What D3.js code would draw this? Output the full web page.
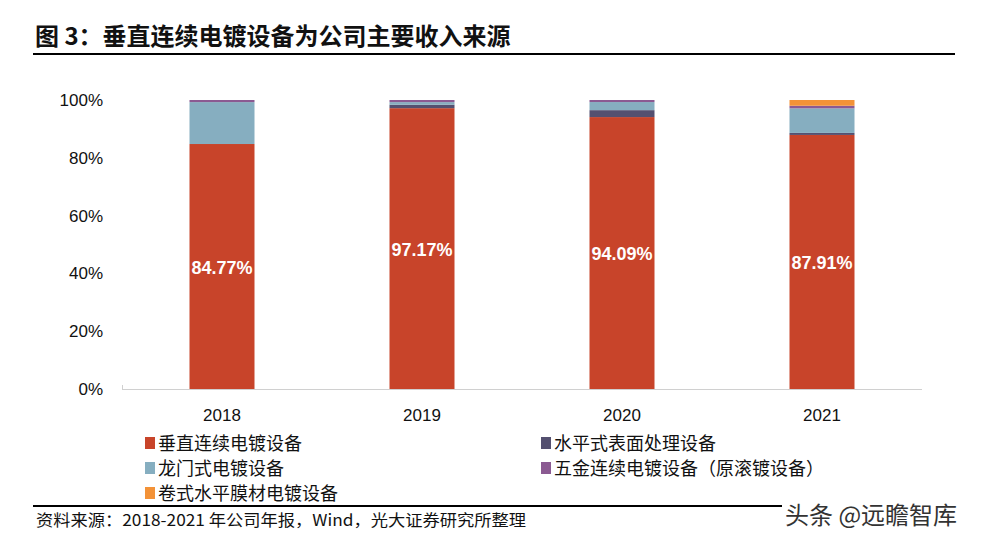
<!DOCTYPE html>
<html><head><meta charset="utf-8">
<script src="https://cdn.jsdelivr.net/npm/d3@7"></script>
<style>
body{margin:0;background:#fff;}
svg{display:block;}
</style></head>
<body>
<svg id="chart" width="982" height="544"></svg>
<script>
const years = ["2018","2019","2020","2021"];
const seriesNames = ["垂直连续电镀设备","水平式表面处理设备","龙门式电镀设备","五金连续电镀设备（原滚镀设备）","卷式水平膜材电镀设备"];
const vertical = [84.77, 97.17, 94.09, 87.91];
const horizontal = [0.0, 1.2, 2.4, 0.7];
const gantry = [14.5, 0.9, 2.8, 8.5];
const hardware = [0.73, 0.73, 0.71, 0.9];
const rollFilm = [0.0, 0.0, 0.0, 1.99];
const yTicks = [0,20,40,60,80,100];
const colors = ["#C8442A","#545070","#86AEC0","#8B5A92","#F39237"];

const svg = d3.select("#chart");
const cjk = "'Noto Sans CJK SC','Noto Sans',sans-serif";
const latin = "Arial,'Liberation Sans',sans-serif";

// title
svg.append("text").attr("x",35).attr("y",45).attr("font-family",cjk).attr("font-weight","bold")
  .attr("font-size",24).attr("fill","#111").text("图 3：垂直连续电镀设备为公司主要收入来源");
svg.append("line").attr("x1",33).attr("x2",955).attr("y1",54).attr("y2",54).attr("stroke","#000").attr("stroke-width",2);

const x = d3.scaleBand().domain(years).range([122,922]).paddingInner(0.675).paddingOuter(0.3375);
const y = d3.scaleLinear().domain([0,100]).range([389,100]);

const rows = years.map((yr,i)=>({year:yr, s0:vertical[i], s1:horizontal[i], s2:gantry[i], s3:hardware[i], s4:rollFilm[i]}));
const stack = d3.stack().keys(["s0","s1","s2","s3","s4"])(rows);

svg.append("g").selectAll("g").data(stack).join("g").attr("fill",(d,i)=>colors[i])
  .selectAll("rect").data(d=>d).join("rect")
  .attr("x",d=>x(d.data.year)).attr("width",x.bandwidth())
  .attr("y",d=>y(d[1])).attr("height",d=>Math.max(0,y(d[0])-y(d[1])));

// y axis labels
svg.append("g").selectAll("text").data(yTicks).join("text")
  .attr("x",103).attr("y",d=>y(d)+6).attr("text-anchor","end")
  .attr("font-family",latin).attr("font-size",17).attr("fill","#111").text(d=>d+"%");

// x axis line
svg.append("line").attr("x1",122).attr("x2",922).attr("y1",389.5).attr("y2",389.5).attr("stroke","#d0d0d0").attr("stroke-width",1);
svg.append("line").attr("x1",122.5).attr("x2",122.5).attr("y1",385).attr("y2",390).attr("stroke","#d0d0d0").attr("stroke-width",1);

svg.append("g").selectAll("text").data(years).join("text")
  .attr("x",d=>x(d)+x.bandwidth()/2).attr("y",421).attr("text-anchor","middle")
  .attr("font-family",latin).attr("font-size",17).attr("fill","#111").text(d=>d);

// data labels
svg.append("g").selectAll("text").data(rows).join("text")
  .attr("x",d=>x(d.year)+x.bandwidth()/2).attr("y",d=>y(d.s0/2)+7).attr("text-anchor","middle")
  .attr("font-family",latin).attr("font-weight","bold").attr("font-size",18).attr("fill","#fff")
  .text(d=>d.s0.toFixed(2)+"%");

// legend
const legPos = [[145,443],[541,443],[145,468],[541,468],[145,493]];
const legOrder = [0,1,2,3,4];
const leg = svg.append("g").selectAll("g").data(legOrder).join("g")
  .attr("transform",(d,i)=>`translate(${legPos[i][0]},${legPos[i][1]})`);
leg.append("rect").attr("x",0).attr("y",-6).attr("width",10).attr("height",12).attr("fill",d=>colors[d]);
leg.append("text").attr("x",13).attr("y",6.5).attr("font-family",cjk).attr("font-size",18).attr("fill","#111")
  .text(d=>seriesNames[d]);

// footer
svg.append("line").attr("x1",33).attr("x2",782).attr("y1",506).attr("y2",506).attr("stroke","#000").attr("stroke-width",2);
svg.append("text").attr("x",36).attr("y",526).attr("font-family",cjk).attr("font-size",16).attr("fill","#111")
  .attr("textLength",490).attr("lengthAdjust","spacingAndGlyphs")
  .text("资料来源：2018-2021 年公司年报，Wind，光大证券研究所整理");
svg.append("text").attr("x",785).attr("y",524).attr("font-family",cjk).attr("font-size",24)
  .attr("fill","#333").attr("stroke","#fff").attr("stroke-width",4).attr("paint-order","stroke")
  .text("头条 @远瞻智库");
</script>
</body></html>
